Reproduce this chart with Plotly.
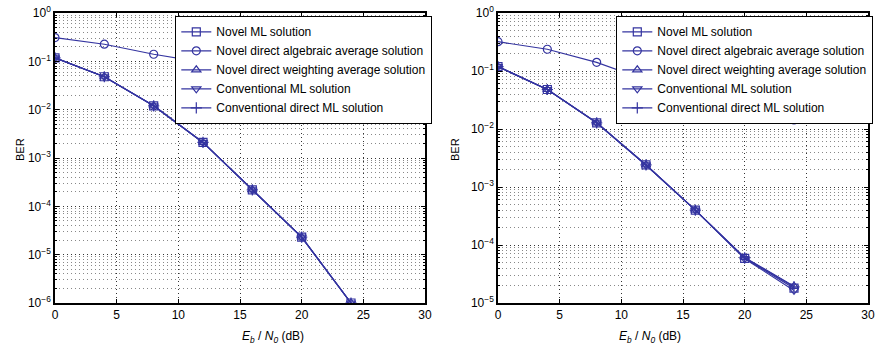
import numpy as np
import plotly.graph_objects as go

snr = [0, 4, 8, 12, 16, 20, 24, 28]
snr_low = [0, 4, 8, 12, 16, 20, 24]

names = ["Novel ML solution",
         "Novel direct algebraic average solution",
         "Novel direct weighting average solution",
         "Conventional ML solution",
         "Conventional direct ML solution"]
symbols = ["square-open", "circle-open", "triangle-up-open", "triangle-down-open", "cross-thin-open"]

# Left panel
left_ml = [0.118, 0.048, 0.012, 0.0021, 2.2e-4, 2.3e-5, 1.0e-6]
left_alg = [0.31, 0.226, 0.14, 0.095, 0.045, 0.0195, 0.013, 0.0107]
left_wavg = [0.118, 0.048, 0.012, 0.0021, 2.2e-4, 2.3e-5, 1.0e-6]
left_cml = [0.118, 0.048, 0.012, 0.0021, 2.2e-4, 2.3e-5, 1.0e-6]
left_cdml = [0.118, 0.048, 0.012, 0.0021, 2.2e-4, 2.3e-5, 1.0e-6]

# Right panel
right_ml = [0.119, 0.048, 0.0128, 0.0024, 4.0e-4, 5.9e-5, 1.8e-5]
right_alg = [0.32, 0.237, 0.141, 0.07, 0.037, 0.0213, 0.0143, 0.0147]
right_wavg = [0.119, 0.048, 0.0128, 0.0024, 4.0e-4, 6.1e-5, 1.95e-5]
right_cml = [0.119, 0.048, 0.0128, 0.0024, 4.0e-4, 5.8e-5, 1.65e-5]
right_cdml = [0.119, 0.048, 0.0128, 0.0024, 4.0e-4, 6.0e-5, 1.9e-5]

x_ticks = [0, 5, 10, 15, 20, 25, 30]
left_decades = [-6, -5, -4, -3, -2, -1, 0]
right_decades = [-5, -4, -3, -2, -1, 0]

color = "#3434a0"
FAM = "Liberation Sans, Arial, sans-serif"

fig = go.Figure()

def add_panel(series, xaxis, yaxis, legend):
    for name, sym, ys in zip(names, symbols, series):
        xs = snr if len(ys) == len(snr) else snr_low
        fig.add_trace(go.Scatter(
            x=xs, y=ys, name=name, mode="lines+markers",
            xaxis=xaxis, yaxis=yaxis, legend=legend,
            line=dict(color=color, width=1.2),
            marker=dict(symbol=sym, size=8, color=color, line=dict(color=color, width=1.2)),
        ))

add_panel([left_ml, left_alg, left_wavg, left_cml, left_cdml], "x", "y", "legend")
add_panel([right_ml, right_alg, right_wavg, right_cml, right_cdml], "x2", "y2", "legend2")

W, H = 877, 354
font = dict(family=FAM, size=12, color="black")

def minor_vals(decs):
    vals = []
    for d in decs[:-1]:
        for m in range(2, 10):
            vals.append(m * 10.0 ** d)
    return vals

def sup_labels(decs):
    return ["10<sup>%s</sup>" % (("−%d" % -d) if d < 0 else "0") for d in decs]

axis_common = dict(showline=True, linecolor="black", linewidth=1.5, mirror="allticks",
                   ticks="inside", ticklen=4, tickcolor="black", automargin=False,
                   showgrid=True, gridcolor="#333333", griddash="1px,3px", gridwidth=1,
                   zeroline=False, tickfont=font)

minor_common = dict(showgrid=True, gridcolor="#888888", griddash="1px,3px", gridwidth=1,
                    ticks="inside", ticklen=2, tickcolor="black")

legend_common = dict(xanchor="left", yanchor="top", bgcolor="white", bordercolor="black",
                     borderwidth=1.3, font=dict(family=FAM, size=12, color="black"),
                     tracegroupgap=0, itemwidth=30)

fig.update_layout(
    width=W, height=H, margin=dict(l=0, r=0, t=0, b=0),
    paper_bgcolor="white", plot_bgcolor="white",
    font=font, showlegend=True,
    xaxis=dict(domain=[55 / W, 425 / W], range=[0, 30], tickvals=x_ticks, anchor="y", **axis_common),
    yaxis=dict(domain=[1 - 303 / H, 1 - 13 / H], type="log", range=[-6, 0], anchor="x",
               tickvals=[10.0 ** d for d in left_decades], ticktext=sup_labels(left_decades),
               minor=dict(tickvals=minor_vals(left_decades), **minor_common),
               **axis_common),
    xaxis2=dict(domain=[498 / W, 868 / W], range=[0, 30], tickvals=x_ticks, anchor="y2", **axis_common),
    yaxis2=dict(domain=[1 - 303 / H, 1 - 13 / H], type="log", range=[-5, 0], anchor="x2",
                tickvals=[10.0 ** d for d in right_decades], ticktext=sup_labels(right_decades),
                minor=dict(tickvals=minor_vals(right_decades), **minor_common),
                **axis_common),
    legend=dict(x=175 / W, y=1 - 16 / H, **legend_common),
    legend2=dict(x=616 / W, y=1 - 16 / H, **legend_common),
)

xtitle = "<i>E<sub>b</sub></i> / <i>N<sub>0</sub></i> (dB)"
for cx in [(55 + 425) / 2 / W, (498 + 868) / 2 / W]:
    fig.add_annotation(text=xtitle, x=cx, y=1 - 337 / H, xref="paper", yref="paper",
                       yanchor="middle", showarrow=False, font=dict(family=FAM, size=12))
for cx in [12 / W, 455 / W]:
    fig.add_annotation(text="BER", x=cx, y=1 - 150 / H, xref="paper", yref="paper", textangle=-90,
                       showarrow=False, font=dict(family=FAM, size=11))

fig.write_html("out.html")
